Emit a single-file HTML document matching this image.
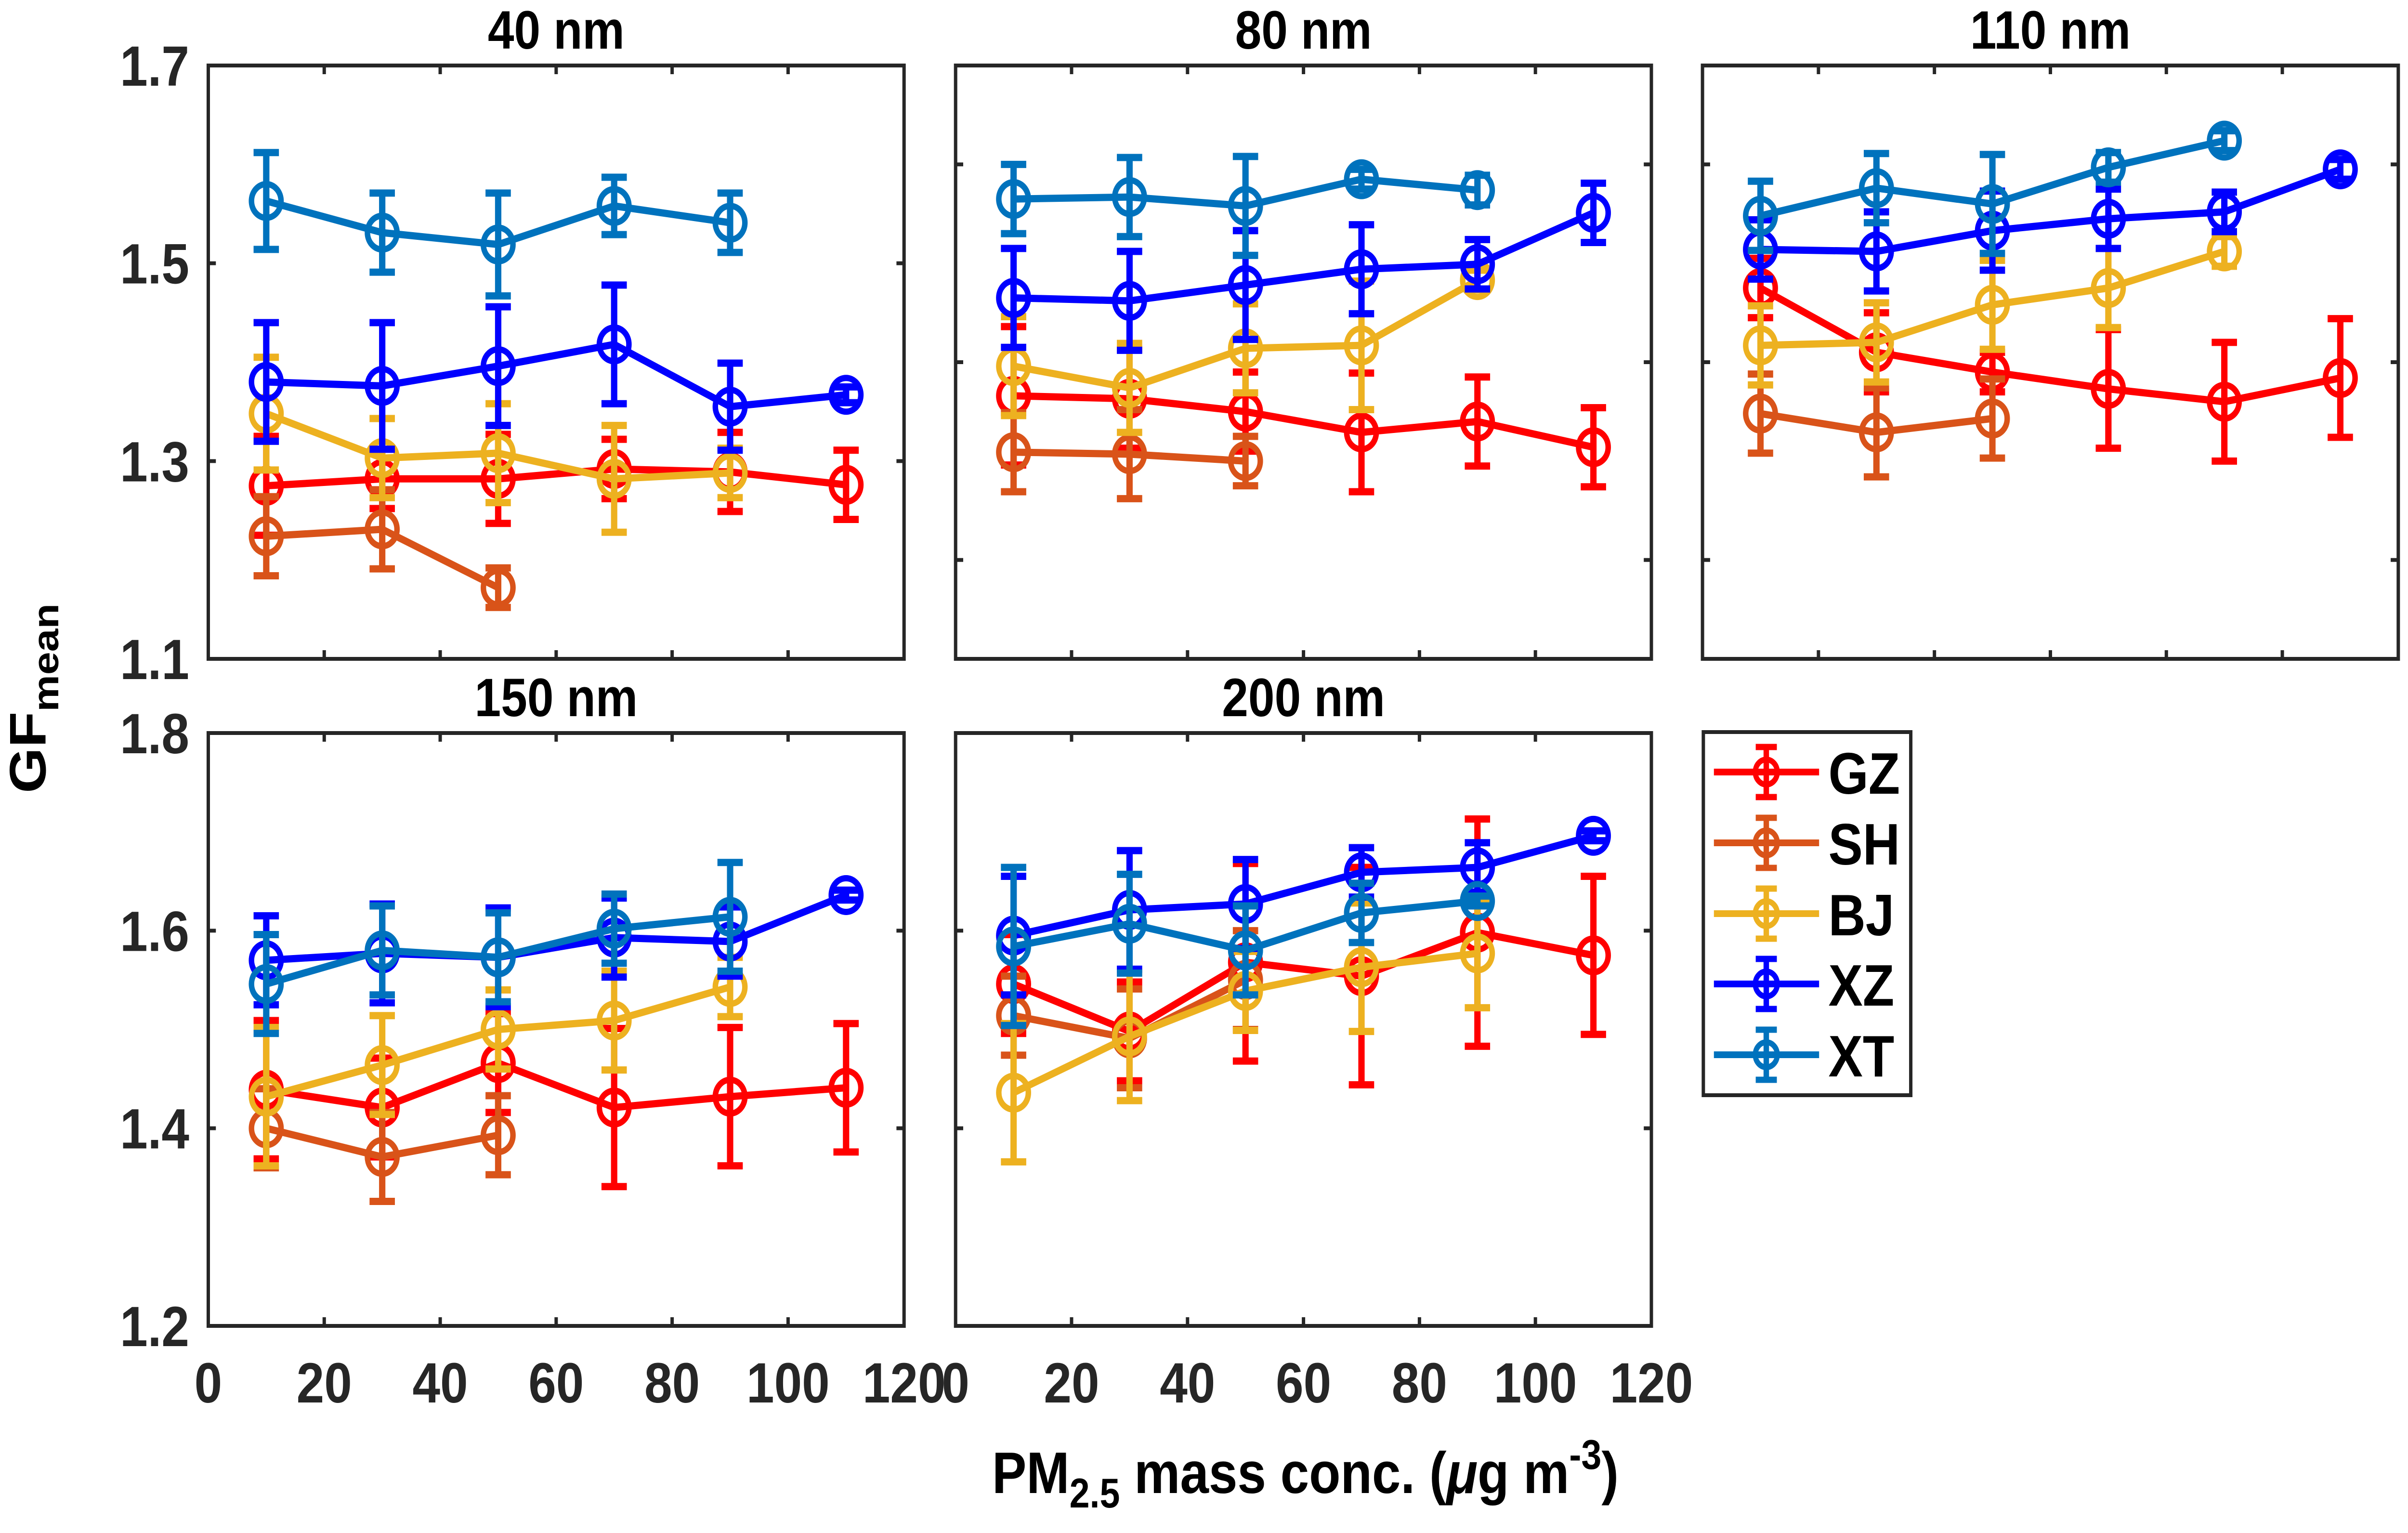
<!DOCTYPE html>
<html><head><meta charset="utf-8">
<style>
html,body{margin:0;padding:0;background:#fff;width:100%;height:100%;overflow:hidden;}
svg{display:block;width:100vw;height:100vh;font-family:"Liberation Sans",Arial,sans-serif;font-weight:bold;}
</style></head>
<body>
<svg id="chart" viewBox="0 0 5700 3183" preserveAspectRatio="none" xmlns="http://www.w3.org/2000/svg">
<rect x="0" y="0" width="5700" height="3183" fill="#fff"/>
</svg>
<script>
const xCats = [10, 30, 50, 70, 90, 110];
const seriesNames = ["GZ", "SH", "BJ", "XZ", "XT"];
const panelTitles = ["40 nm", "80 nm", "110 nm", "150 nm", "200 nm"];
const xTickLabels = [0, 20, 40, 60, 80, 100, 120];
const yTicksTopLabeled = [1.1, 1.3, 1.5, 1.7];
const yTicksTopOther = [1.2, 1.4, 1.6];
const yTicksBottom = [1.2, 1.4, 1.6, 1.8];

// 40 nm
const p40_GZ = [1.275, 1.282, 1.282, 1.292, 1.289, 1.276];
const p40_GZ_err = [0.05, 0.03, 0.045, 0.03, 0.04, 0.035];
const p40_SH = [1.224, 1.231, 1.172];
const p40_SH_err = [0.04, 0.04, 0.02];
const p40_BJ = [1.348, 1.303, 1.308, 1.282, 1.288];
const p40_BJ_err = [0.057, 0.04, 0.05, 0.054, 0.025];
const p40_XZ = [1.380, 1.376, 1.396, 1.418, 1.355, 1.367];
const p40_XZ_err = [0.06, 0.064, 0.06, 0.06, 0.044, 0.008];
const p40_XT = [1.563, 1.531, 1.519, 1.558, 1.541];
const p40_XT_err = [0.049, 0.04, 0.052, 0.029, 0.03];
// 80 nm
const p80_GZ = [1.366, 1.363, 1.350, 1.329, 1.340, 1.314];
const p80_GZ_err = [0.07, 0.05, 0.04, 0.06, 0.045, 0.04];
const p80_SH = [1.309, 1.307, 1.300];
const p80_SH_err = [0.04, 0.045, 0.025];
const p80_BJ = [1.396, 1.374, 1.414, 1.417, 1.483];
const p80_BJ_err = [0.05, 0.045, 0.045, 0.065, 0.01];
const p80_XZ = [1.465, 1.462, 1.478, 1.494, 1.499, 1.551];
const p80_XZ_err = [0.05, 0.05, 0.055, 0.045, 0.025, 0.03];
const p80_XT = [1.565, 1.567, 1.558, 1.585, 1.574];
const p80_XT_err = [0.035, 0.04, 0.05, 0.01, 0.015];
// 110 nm
const p110_GZ = [1.475, 1.410, 1.390, 1.373, 1.360, 1.384];
const p110_GZ_err = [0.03, 0.04, 0.02, 0.06, 0.06, 0.06];
const p110_SH = [1.348, 1.329, 1.343];
const p110_SH_err = [0.04, 0.045, 0.04];
const p110_BJ = [1.417, 1.420, 1.458, 1.475, 1.512];
const p110_BJ_err = [0.04, 0.04, 0.045, 0.04, 0.015];
const p110_XZ = [1.514, 1.512, 1.533, 1.545, 1.552, 1.595];
const p110_XZ_err = [0.03, 0.04, 0.04, 0.03, 0.02, 0.01];
const p110_XT = [1.548, 1.576, 1.560, 1.597, 1.624];
const p110_XT_err = [0.035, 0.035, 0.05, 0.015, 0.01];
// 150 nm
const p150_GZ = [1.439, 1.421, 1.466, 1.421, 1.432, 1.441];
const p150_GZ_err = [0.07, 0.05, 0.05, 0.08, 0.07, 0.065];
const p150_SH = [1.400, 1.371, 1.393];
const p150_SH_err = [0.04, 0.045, 0.04];
const p150_BJ = [1.432, 1.464, 1.500, 1.509, 1.543];
const p150_BJ_err = [0.07, 0.05, 0.04, 0.05, 0.03];
const p150_XZ = [1.570, 1.577, 1.573, 1.593, 1.589, 1.636];
const p150_XZ_err = [0.045, 0.05, 0.05, 0.04, 0.035, 0.005];
const p150_XT = [1.546, 1.580, 1.573, 1.602, 1.614];
const p150_XT_err = [0.05, 0.045, 0.045, 0.035, 0.055];
// 200 nm
const p200_GZ = [1.546, 1.498, 1.568, 1.554, 1.598, 1.575];
const p200_GZ_err = [0.05, 0.05, 0.10, 0.11, 0.115, 0.08];
const p200_SH = [1.514, 1.491, 1.550];
const p200_SH_err = [0.04, 0.05, 0.05];
const p200_BJ = [1.436, 1.493, 1.539, 1.563, 1.577];
const p200_BJ_err = [0.07, 0.065, 0.04, 0.065, 0.055];
const p200_XZ = [1.595, 1.621, 1.627, 1.659, 1.664, 1.696];
const p200_XZ_err = [0.06, 0.06, 0.045, 0.025, 0.025, 0.005];
const p200_XT = [1.584, 1.607, 1.580, 1.618, 1.630];
const p200_XT_err = [0.08, 0.05, 0.045, 0.03, 0.005];

const colors = {GZ:"#ff0000", SH:"#d95319", BJ:"#edb120", XZ:"#0000ff", XT:"#0072bd"};
const NS = "http://www.w3.org/2000/svg";
const svg = document.getElementById("chart");
function mk(tag, attrs, parent){const e=document.createElementNS(NS,tag);for(const k in attrs)e.setAttribute(k,attrs[k]);(parent||svg).appendChild(e);return e;}

const panels = [
 {x0:493,x1:2140,y0:136,y1:1368,ymin:1.1,ymax:1.7,yt:yTicksTopLabeled,lab:true,xlab:false,data:[[p40_GZ,p40_GZ_err],[p40_SH,p40_SH_err],[p40_BJ,p40_BJ_err],[p40_XZ,p40_XZ_err],[p40_XT,p40_XT_err]]},
 {x0:2262,x1:3909,y0:136,y1:1368,ymin:1.1,ymax:1.7,yt:yTicksTopOther,lab:false,xlab:false,data:[[p80_GZ,p80_GZ_err],[p80_SH,p80_SH_err],[p80_BJ,p80_BJ_err],[p80_XZ,p80_XZ_err],[p80_XT,p80_XT_err]]},
 {x0:4030,x1:5677,y0:136,y1:1368,ymin:1.1,ymax:1.7,yt:yTicksTopOther,lab:false,xlab:false,data:[[p110_GZ,p110_GZ_err],[p110_SH,p110_SH_err],[p110_BJ,p110_BJ_err],[p110_XZ,p110_XZ_err],[p110_XT,p110_XT_err]]},
 {x0:493,x1:2140,y0:1522,y1:2753,ymin:1.2,ymax:1.8,yt:yTicksBottom,lab:true,xlab:true,data:[[p150_GZ,p150_GZ_err],[p150_SH,p150_SH_err],[p150_BJ,p150_BJ_err],[p150_XZ,p150_XZ_err],[p150_XT,p150_XT_err]]},
 {x0:2262,x1:3909,y0:1522,y1:2753,ymin:1.2,ymax:1.8,yt:yTicksBottom,lab:false,xlab:true,data:[[p200_GZ,p200_GZ_err],[p200_SH,p200_SH_err],[p200_BJ,p200_BJ_err],[p200_XZ,p200_XZ_err],[p200_XT,p200_XT_err]]}
];

panels.forEach((p,pi)=>{
  const g = mk("g",{});
  
  
  const sx = v => p.x0 + (v-0)/(120-0)*(p.x1-p.x0);
  const sy = v => p.y1 - (v-p.ymin)/(p.ymax-p.ymin)*(p.y1-p.y0);
  for(let i=1;i<xTickLabels.length-1;i++){
    const x=sx(xTickLabels[i]);
    mk("line",{x1:x,x2:x,y1:p.y1,y2:p.y1-18,stroke:"#262626","stroke-width":8},g);
    mk("line",{x1:x,x2:x,y1:p.y0,y2:p.y0+18,stroke:"#262626","stroke-width":8},g);
  }
  p.yt.forEach(v=>{
    const y=sy(v);
    mk("line",{x1:p.x0,x2:p.x0+18,y1:y,y2:y,stroke:"#262626","stroke-width":8},g);
    mk("line",{x1:p.x1,x2:p.x1-18,y1:y,y2:y,stroke:"#262626","stroke-width":8},g);
    if(p.lab){
      const t=mk("text",{x:448,y:y+42,"text-anchor":"end","font-size":118,fill:"#262626"},g);
      t.textContent=v.toFixed(1);
      
      
    }
  });
  if(p.xlab){
    xTickLabels.forEach(v=>{
      const t=mk("text",{x:sx(v),y:2912,"text-anchor":"middle","font-size":118,fill:"#262626"},g);
      t.textContent=v;
      
      
    });
  }
  const tt=mk("text",{x:(p.x0+p.x1)/2,y:p.y0-35,"text-anchor":"middle","font-size":112,fill:"#000"},g);
  tt.textContent=panelTitles[pi];
  
  
  p.data.forEach((sd,si)=>{
    const vals=sd[0], errs=sd[1], c=colors[seriesNames[si]];
    const sg=mk("g",{},g);
    
    
    const pts=vals.map((v,i)=>sx(xCats[i])+","+sy(v)).join(" ");
    mk("polyline",{points:pts,fill:"none",stroke:c,"stroke-width":15,"stroke-linejoin":"round"},sg);
    vals.forEach((v,i)=>{
      const x=sx(xCats[i]), yt=sy(v+errs[i]), yb=sy(v-errs[i]);
      mk("line",{x1:x,x2:x,y1:yt,y2:yb,stroke:c,"stroke-width":15},sg);
      mk("line",{x1:x-30,x2:x+30,y1:yt,y2:yt,stroke:c,"stroke-width":15},sg);
      mk("line",{x1:x-30,x2:x+30,y1:yb,y2:yb,stroke:c,"stroke-width":15},sg);
      const m=mk("ellipse",{cx:x,cy:sy(v),rx:35,ry:35,fill:"none",stroke:c,"stroke-width":13},sg);
      
      
    });
  });
  const box=mk("rect",{x:p.x0,y:p.y0,width:p.x1-p.x0,height:p.y1-p.y0,fill:"none",stroke:"#262626","stroke-width":8},g);
  
  
});

const lg=mk("g",{});


mk("rect",{x:4032,y:1520,width:491,height:754,fill:"#fff",stroke:"#262626","stroke-width":8},lg);
const legY=[1603,1750,1897,2043,2190];
seriesNames.forEach((n,i)=>{
  const c=colors[n], y=legY[i];
  const e=mk("g",{},lg);
  
  
  mk("line",{x1:4057,x2:4306,y1:y,y2:y,stroke:c,"stroke-width":14},e);
  mk("line",{x1:4181,x2:4181,y1:y-52,y2:y+52,stroke:c,"stroke-width":13},e);
  mk("line",{x1:4156,x2:4206,y1:y-52,y2:y-52,stroke:c,"stroke-width":13},e);
  mk("line",{x1:4156,x2:4206,y1:y+52,y2:y+52,stroke:c,"stroke-width":13},e);
  mk("ellipse",{cx:4181,cy:y,rx:26,ry:26,fill:"none",stroke:c,"stroke-width":12},e);
  const t=mk("text",{x:4328,y:y+45,"font-size":122,fill:"#000"},e);
  t.textContent=n;
});

const yl=mk("text",{transform:"translate(108,1450) rotate(-90)","text-anchor":"middle","font-size":122,fill:"#000"});


yl.innerHTML='GF<tspan font-size="86" dy="30">mean</tspan>';
const xl=mk("text",{x:3090,y:3100,"text-anchor":"middle","font-size":122,fill:"#000"});


xl.innerHTML='PM<tspan font-size="86" dy="30">2.5</tspan><tspan dy="-30"> mass conc. (</tspan><tspan font-style="italic">μ</tspan>g m<tspan font-size="86" dy="-50">-3</tspan><tspan dy="50">)</tspan>';
</script>
</body></html>
